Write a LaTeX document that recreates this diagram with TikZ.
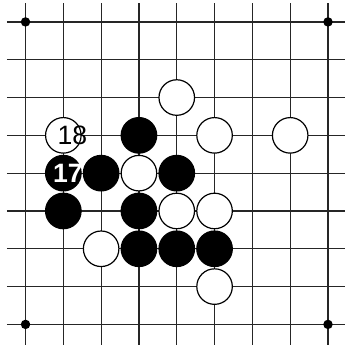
\documentclass[tikz,border=0pt]{standalone}
\usepackage{fontspec}
\setmainfont{Liberation Sans}
\usepackage{tikz}

\begin{document}
\begin{tikzpicture}[
    gridline/.style={line width=0.9pt, black!85},
    stone/.style={circle, draw, line width=0.9pt, minimum size=0.94cm, inner sep=0pt},
    wst/.style={stone, fill=white},
    bst/.style={stone, fill=black},
    hoshi/.style={circle, fill=black, minimum size=0.25cm, inner sep=0pt},
    num/.style={inner sep=0pt, font=\fontsize{20}{20}\selectfont}
]
\useasboundingbox (-0.675,-8.52) rectangle (8.45,0.58);
% board
\foreach \i in {0,...,8} {
  \draw[gridline] (\i,0.5) -- (\i,-8.6);
  \draw[gridline] (-0.49,-\i) -- (8.6,-\i);
}
\node[hoshi] (h1) at (0,0) {};
\node[hoshi] (h2) at (8,0) {};
\node[hoshi] (h3) at (0,-8) {};
\node[hoshi] (h4) at (8,-8) {};

% white stones
\node[wst] (w1) at (4,-2) {};
\node[wst] (w18) at (1,-3) {};
\node[wst] (w2) at (5,-3) {};
\node[wst] (w3) at (7,-3) {};
\node[wst] (w4) at (3,-4) {};
\node[wst] (w5) at (4,-5) {};
\node[wst] (w6) at (5,-5) {};
\node[wst] (w7) at (2,-6) {};
\node[wst] (w8) at (5,-7) {};

% black stones
\node[bst] (b1) at (3,-3) {};
\node[bst] (b17) at (1,-4) {};
\node[bst] (b2) at (2,-4) {};
\node[bst] (b3) at (4,-4) {};
\node[bst] (b4) at (1,-5) {};
\node[bst] (b5) at (3,-5) {};
\node[bst] (b6) at (3,-6) {};
\node[bst] (b7) at (4,-6) {};
\node[bst] (b8) at (5,-6) {};

% move numbers
\node[num] (n18) at ([xshift=0.24cm]w18.center) {18};
\node[num, text=white, font=\fontsize{20}{20}\selectfont\bfseries] (n17) at ([xshift=0.12cm]b17.center) {17};
\end{tikzpicture}
\end{document}
